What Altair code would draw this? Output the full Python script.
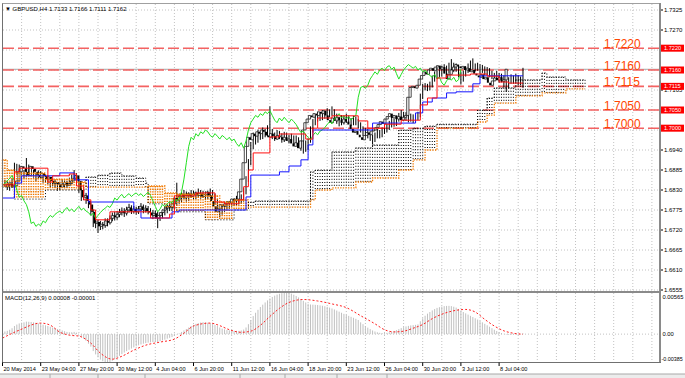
import altair as alt
import pandas as pd

# ---------------- data ----------------
opens = [
1.6840,1.6845,1.6850,1.6838,1.6842,1.6855,1.6880,1.6895,1.6890,1.6880,
1.6870,1.6895,1.6888,1.6880,1.6872,1.6865,1.6876,1.6868,1.6860,1.6866,
1.6855,1.6848,1.6852,1.6845,1.6838,1.6845,1.6850,1.6842,1.6848,1.6855,
1.6862,1.6870,1.6855,1.6830,1.6810,1.6815,1.6800,1.6790,1.6770,1.6738,
1.6742,1.6730,1.6736,1.6732,1.6745,1.6740,1.6752,1.6760,1.6755,1.6763,
1.6768,1.6772,1.6766,1.6775,1.6782,1.6772,1.6778,1.6770,1.6778,1.6785,
1.6775,1.6780,1.6772,1.6768,1.6760,1.6766,1.6752,1.6760,1.6768,1.6775,
1.6780,1.6786,1.6782,1.6792,1.6808,1.6802,1.6812,1.6818,1.6808,1.6815,
1.6820,1.6812,1.6818,1.6822,1.6815,1.6820,1.6812,1.6818,1.6824,1.6815,
1.6800,1.6785,1.6770,1.6778,1.6790,1.6785,1.6792,1.6798,1.6795,1.6805,
1.6800,1.6805,1.6825,1.6860,1.6905,1.6950,1.6975,1.6968,1.6985,1.6978,
1.6990,1.6985,1.6995,1.6990,1.6980,1.6975,1.6985,1.6978,1.6970,1.6980,
1.6975,1.6968,1.6975,1.6965,1.6970,1.6958,1.6950,1.6960,1.6945,1.6965,
1.6995,1.7015,1.7025,1.7035,1.7030,1.7040,1.7035,1.7045,1.7040,1.7048,
1.7035,1.7022,1.7015,1.7028,1.7020,1.7030,1.7022,1.7015,1.7025,1.7018,
1.7010,1.6998,1.6988,1.6992,1.6982,1.6975,1.6968,1.6980,1.6988,1.6982,
1.6992,1.6995,1.7002,1.7010,1.7018,1.7012,1.7025,1.7032,1.7040,1.7028,
1.7035,1.7025,1.7032,1.7022,1.7030,1.7035,1.7085,1.7112,1.7115,1.7110,
1.7118,1.7135,1.7145,1.7155,1.7148,1.7160,1.7165,1.7158,1.7168,1.7172,
1.7162,1.7168,1.7150,1.7135,1.7148,1.7160,1.7168,1.7175,1.7170,1.7165,
1.7170,1.7160,1.7165,1.7155,1.7160,1.7150,1.7145,1.7140,1.7148,1.7135,
1.7140,1.7125,1.7118,1.7130,1.7138,1.7132,1.7140,1.7128,1.7133]

highs = [
1.6852,1.6858,1.6856,1.6848,1.6862,1.6905,1.6902,1.6900,1.6896,1.6885,
1.6918,1.6900,1.6895,1.6886,1.6878,1.6884,1.6882,1.6872,1.6874,1.6870,
1.6860,1.6860,1.6858,1.6850,1.6852,1.6860,1.6856,1.6855,1.6864,1.6872,
1.6885,1.6876,1.6860,1.6836,1.6828,1.6822,1.6808,1.6796,1.6776,1.6752,
1.6748,1.6745,1.6742,1.6752,1.6752,1.6760,1.6768,1.6770,1.6772,1.6778,
1.6782,1.6780,1.6784,1.6792,1.6788,1.6786,1.6784,1.6786,1.6794,1.6790,
1.6788,1.6786,1.6780,1.6775,1.6774,1.6770,1.6768,1.6776,1.6784,1.6790,
1.6796,1.6794,1.6802,1.6850,1.6820,1.6824,1.6830,1.6826,1.6824,1.6830,
1.6828,1.6826,1.6834,1.6830,1.6828,1.6826,1.6828,1.6834,1.6830,1.6820,
1.6806,1.6790,1.6786,1.6798,1.6796,1.6800,1.6806,1.6808,1.6814,1.6815,
1.6818,1.6835,1.6868,1.6915,1.6962,1.6988,1.6985,1.6996,1.6992,1.7002,
1.6998,1.7008,1.7060,1.6998,1.6988,1.6995,1.6992,1.6986,1.6990,1.6988,
1.6982,1.6985,1.6980,1.6980,1.6975,1.6965,1.6968,1.6966,1.6972,1.7005,
1.7025,1.7036,1.7045,1.7044,1.7050,1.7048,1.7055,1.7052,1.7060,1.7052,
1.7040,1.7030,1.7036,1.7034,1.7040,1.7035,1.7028,1.7034,1.7032,1.7025,
1.7016,1.7005,1.7000,1.6998,1.6990,1.6982,1.6988,1.6998,1.6995,1.7002,
1.7005,1.7012,1.7020,1.7028,1.7026,1.7034,1.7042,1.7050,1.7045,1.7044,
1.7040,1.7040,1.7038,1.7038,1.7045,1.7095,1.7122,1.7124,1.7122,1.7128,
1.7145,1.7156,1.7166,1.7162,1.7172,1.7176,1.7172,1.7180,1.7190,1.7180,
1.7178,1.7172,1.7156,1.7158,1.7170,1.7178,1.7186,1.7192,1.7178,1.7180,
1.7176,1.7174,1.7170,1.7168,1.7165,1.7158,1.7152,1.7158,1.7152,1.7150,
1.7145,1.7132,1.7140,1.7148,1.7145,1.7150,1.7146,1.7142,1.7166]

lows = [
1.6832,1.6838,1.6830,1.6828,1.6836,1.6850,1.6872,1.6880,1.6872,1.6862,
1.6865,1.6878,1.6872,1.6864,1.6855,1.6860,1.6860,1.6850,1.6852,1.6846,
1.6838,1.6840,1.6836,1.6828,1.6830,1.6840,1.6835,1.6836,1.6842,1.6848,
1.6856,1.6846,1.6822,1.6800,1.6802,1.6792,1.6780,1.6760,1.6728,1.6725,
1.6712,1.6720,1.6722,1.6726,1.6730,1.6735,1.6744,1.6746,1.6748,1.6755,
1.6760,1.6756,1.6760,1.6768,1.6764,1.6765,1.6762,1.6764,1.6772,1.6766,
1.6768,1.6763,1.6758,1.6750,1.6752,1.6725,1.6745,1.6752,1.6760,1.6766,
1.6772,1.6772,1.6776,1.6786,1.6792,1.6796,1.6805,1.6798,1.6800,1.6808,
1.6804,1.6805,1.6810,1.6806,1.6808,1.6802,1.6805,1.6810,1.6805,1.6790,
1.6772,1.6755,1.6762,1.6770,1.6776,1.6778,1.6784,1.6786,1.6788,1.6790,
1.6792,1.6798,1.6818,1.6852,1.6898,1.6942,1.6955,1.6960,1.6968,1.6970,
1.6975,1.6978,1.6982,1.6970,1.6965,1.6968,1.6970,1.6960,1.6962,1.6966,
1.6958,1.6960,1.6955,1.6958,1.6948,1.6938,1.6930,1.6935,1.6940,1.6960,
1.6988,1.7008,1.7018,1.7020,1.7022,1.7026,1.7028,1.7030,1.7034,1.7026,
1.7012,1.7005,1.7008,1.7010,1.7014,1.7012,1.7006,1.7008,1.7008,1.7000,
1.6988,1.6978,1.6978,1.6972,1.6965,1.6955,1.6962,1.6972,1.6972,1.6975,
1.6984,1.6988,1.6995,1.7002,1.7004,1.7006,1.7018,1.7025,1.7020,1.7020,
1.7016,1.7018,1.7014,1.7015,1.7022,1.7030,1.7080,1.7104,1.7102,1.7104,
1.7112,1.7128,1.7138,1.7140,1.7142,1.7152,1.7148,1.7150,1.7160,1.7154,
1.7155,1.7140,1.7120,1.7128,1.7142,1.7152,1.7160,1.7162,1.7156,1.7158,
1.7150,1.7152,1.7146,1.7146,1.7140,1.7135,1.7130,1.7134,1.7125,1.7126,
1.7112,1.7100,1.7110,1.7122,1.7122,1.7125,1.7118,1.7118,1.7111]

closes = [
1.6845,1.6850,1.6838,1.6842,1.6855,1.6880,1.6895,1.6890,1.6880,1.6870,
1.6895,1.6888,1.6880,1.6872,1.6865,1.6876,1.6868,1.6860,1.6866,1.6855,
1.6848,1.6852,1.6845,1.6838,1.6845,1.6850,1.6842,1.6848,1.6855,1.6862,
1.6870,1.6855,1.6830,1.6810,1.6815,1.6800,1.6790,1.6770,1.6738,1.6742,
1.6730,1.6736,1.6732,1.6745,1.6740,1.6752,1.6760,1.6755,1.6763,1.6768,
1.6772,1.6766,1.6775,1.6782,1.6772,1.6778,1.6770,1.6778,1.6785,1.6775,
1.6780,1.6772,1.6768,1.6760,1.6766,1.6752,1.6760,1.6768,1.6775,1.6780,
1.6786,1.6782,1.6792,1.6808,1.6802,1.6812,1.6818,1.6808,1.6815,1.6820,
1.6812,1.6818,1.6822,1.6815,1.6820,1.6812,1.6818,1.6824,1.6815,1.6800,
1.6785,1.6770,1.6778,1.6790,1.6785,1.6792,1.6798,1.6795,1.6805,1.6800,
1.6805,1.6825,1.6860,1.6905,1.6950,1.6975,1.6968,1.6985,1.6978,1.6990,
1.6985,1.6995,1.6990,1.6980,1.6975,1.6985,1.6978,1.6970,1.6980,1.6975,
1.6968,1.6975,1.6965,1.6970,1.6958,1.6950,1.6960,1.6945,1.6965,1.6995,
1.7015,1.7025,1.7035,1.7030,1.7040,1.7035,1.7045,1.7040,1.7048,1.7035,
1.7022,1.7015,1.7028,1.7020,1.7030,1.7022,1.7015,1.7025,1.7018,1.7010,
1.6998,1.6988,1.6992,1.6982,1.6975,1.6968,1.6980,1.6988,1.6982,1.6992,
1.6995,1.7002,1.7010,1.7018,1.7012,1.7025,1.7032,1.7040,1.7028,1.7035,
1.7025,1.7032,1.7022,1.7030,1.7035,1.7085,1.7112,1.7115,1.7110,1.7118,
1.7135,1.7145,1.7155,1.7148,1.7160,1.7165,1.7158,1.7168,1.7172,1.7162,
1.7168,1.7150,1.7135,1.7148,1.7160,1.7168,1.7175,1.7170,1.7165,1.7170,
1.7160,1.7165,1.7155,1.7160,1.7150,1.7145,1.7140,1.7148,1.7135,1.7140,
1.7125,1.7118,1.7130,1.7138,1.7132,1.7140,1.7128,1.7133,1.7162]

# Ichimoku lines as constant runs (bar where the level starts, level)
tenkan_start = [0,5,7,19,21,28,31,34,37,39,45,62,70,72,81,89,93,99,101,103,
                105,112,116,127,130,132,138,149,153,160,167,175,178,182,186,196,203,208,212]
tenkan_val = [1.6844,1.6880,1.6890,1.6852,1.6869,1.6874,1.6841,1.6803,1.6775,1.6748,
              1.6770,1.6753,1.6764,1.6814,1.6822,1.6797,1.6792,1.6803,1.6839,1.6885,
              1.6932,1.6976,1.6984,1.6970,1.7000,1.7028,1.7034,1.7020,1.7000,1.7011,
              1.7022,1.7064,1.7083,1.7138,1.7146,1.7149,1.7143,1.7127,1.7124]
kijun_start = [0,5,8,24,30,36,55,58,71,74,102,104,116,120,125,128,130,155,173,176,180,186,190,197,200]
kijun_val = [1.6808,1.6849,1.6869,1.6877,1.6858,1.6797,1.6775,1.6753,1.6770,1.6775,
             1.6811,1.6871,1.6880,1.6896,1.6913,1.6954,1.6995,1.7014,1.7042,1.7072,
             1.7083,1.7097,1.7100,1.7122,1.7144]
spanA_start = [0,2,5,18,31,35,61,68,73,85,91,97,103,129,131,138,148,155,166,172,
               177,182,199,203,206,215,226,236]
spanA_val = [1.6913,1.6885,1.6877,1.6860,1.6852,1.6838,1.6841,1.6822,1.6819,1.6814,
             1.6797,1.6803,1.6783,1.6803,1.6830,1.6836,1.6852,1.6863,1.6885,1.6913,
             1.6940,1.7000,1.7017,1.7036,1.7069,1.7089,1.7097,1.7108]
spanB_start = [0,5,18,35,40,45,50,56,60,61,68,73,85,97,103,106,129,131,138,148,
               155,166,172,177,182,199,203,206,215,226,228,236]
spanB_val = [1.6838,1.6805,1.6830,1.6866,1.6871,1.6877,1.6869,1.6863,1.6849,1.6792,
             1.6781,1.6770,1.6748,1.6775,1.6797,1.6800,1.6880,1.6885,1.6935,1.6946,
             1.6954,1.6995,1.7000,1.7006,1.7011,1.7050,1.7083,1.7111,1.7133,1.7152,
             1.7141,1.7133]
cloud_bars = 245
chikou_shift = 26

# MACD main (histogram), in units of 0.00001
macd_main = [
20,35,45,60,80,110,130,145,155,160,
170,168,165,160,155,145,138,128,120,110,
100,90,80,70,60,50,40,30,25,25,
30,20,0,-30,-60,-90,-130,-170,-230,-275,
-315,-345,-368,-382,-385,-378,-362,-340,-318,-295,
-272,-250,-230,-212,-196,-180,-165,-152,-140,-130,
-122,-116,-112,-108,-105,-106,-95,-85,-75,-62,
-50,-40,-25,-5,10,30,50,70,90,110,
125,140,150,158,162,160,155,150,140,125,
110,90,75,65,55,50,48,45,45,45,
50,62,90,135,190,245,290,330,368,400,
430,458,485,505,522,537,548,556,562,565,
560,550,535,518,498,475,452,430,412,402,
400,398,395,390,385,378,370,360,348,335,
320,305,290,275,262,248,235,222,208,192,
160,135,110,88,68,50,36,25,18,14,
14,18,25,34,44,55,68,82,95,105,
112,118,122,126,132,175,215,250,278,300,
322,340,356,366,374,380,383,384,380,372,
360,342,320,300,282,265,248,232,215,198,
180,160,140,120,100,80,60,42,28,15,
4,-6,-10,-12,-10,-8,-6,-2,8]
signal_idx = [0,7,16,20,24,28,32,37,41,46,50,55,60,66,72,76,80,87,91,95,100,104,108,112,
              116,120,126,132,138,144,150,156,160,164,168,172,176,180,184,188,194,198,
              202,206,210,214,218]
signal_val = [-54,54,150,122,27,-14,-27,-122,-258,-340,-300,-217,-150,-108,-68,14,110,150,
              115,60,25,40,120,240,350,430,470,450,410,360,250,140,60,30,40,80,130,210,
              270,310,335,300,200,110,45,12,-1]

price_ticks = [1.7325,1.7270,1.7215,1.7160,1.7105,1.7050,1.6995,1.6940,1.6885,1.6830,
               1.6775,1.6720,1.6665,1.6610,1.6555]
# tick labels that stay visible beside the red level boxes
price_labels_shown = [1.7325,1.7270,1.7105,1.6940,1.6885,1.6830,1.6775,1.6720,1.6665,
                      1.6610,1.6555]
level_values = [1.7220,1.7160,1.7115,1.7050,1.7000]
level_labels = ["1.7220","1.7160","1.7115","1.7050","1.7000"]
bid_price = 1.7162
date_idx = [0,16,32,48,64,80,96,112,128,144,160,176,192,208]
date_labels = ["20 May 2014","23 May 04:00","27 May 20:00","30 May 12:00","4 Jun 04:00",
               "6 Jun 20:00","11 Jun 12:00","16 Jun 04:00","18 Jun 20:00","23 Jun 12:00",
               "26 Jun 04:00","30 Jun 20:00","3 Jul 12:00","8 Jul 04:00"]
macd_top, macd_bottom = 0.00565, -0.00385
title_text = "\u25bc GBPUSD,H4  1.7133 1.7166 1.7111 1.7162"
macd_title = "MACD(12,26,9) 0.00008 -0.00001"

# ---------------- build tables ----------------
def expand(starts, vals, n):
    out = []
    for k, s in enumerate(starts):
        e = starts[k + 1] if k + 1 < len(starts) else n
        out += [vals[k]] * (e - s)
    return out

ORANGE = "#F07800"
nb = len(closes)
candles = pd.DataFrame({"i": range(nb), "o": opens, "h": highs, "l": lows, "c": closes})
bull = candles[candles.c >= candles.o]
bear = candles[candles.c < candles.o]

A = expand(spanA_start, spanA_val, cloud_bars)
B = expand(spanB_start, spanB_val, cloud_bars)
cloud = pd.DataFrame({"i": range(cloud_bars), "a": A, "b": B})
cloud["top"] = cloud[["a", "b"]].max(axis=1)
cloud["bot"] = cloud[["a", "b"]].min(axis=1)
cloud_or = cloud[cloud.a >= cloud.b]
cloud_bk = cloud[cloud.a < cloud.b]

def steps(starts, vals):
    return pd.DataFrame({"i": starts + [nb - 1], "p": vals + [vals[-1]]})

tenkan = steps(tenkan_start, tenkan_val)
kijun = steps(kijun_start, kijun_val)
chikou = pd.DataFrame({"i": [k - chikou_shift for k in range(nb)], "p": closes})
chikou = chikou[chikou.i >= 0]

macd = pd.DataFrame({"i": range(nb), "m": [v * 1e-5 for v in macd_main], "z": 0.0})
signal = pd.DataFrame({"i": signal_idx, "s": [v * 1e-5 for v in signal_val]})

pt = pd.DataFrame({"p": price_ticks})
ptl = pd.DataFrame({"p": price_labels_shown,
                    "lab": [f"{v:.4f}" for v in price_labels_shown]})
lv = pd.DataFrame({"p": level_values, "lab": level_labels})
dates = pd.DataFrame({"i": date_idx, "lab": date_labels})
vgrid = pd.DataFrame({"i": list(range(8, 276, 8))})
one = pd.DataFrame({"k": [0]})

# ---------------- scales ----------------
XS = alt.Scale(domain=[0, 100], range=[2.5, 241.25], nice=False, zero=False)
YP = alt.Scale(domain=[1.6555, 1.7325], range=[290, 10], nice=False, zero=False)
YM = alt.Scale(domain=[macd_bottom, macd_top], range=[362.5, 292.5], nice=False, zero=False)

def xq(f="i"):
    return alt.X(f"{f}:Q", scale=XS, axis=None)

def yp(f):
    return alt.Y(f"{f}:Q", scale=YP, axis=None)

def ym(f):
    return alt.Y(f"{f}:Q", scale=YM, axis=None)

FONT = "Liberation Sans"
GRID = "#c2c2c2"
L = []

# grid
L.append(alt.Chart(vgrid).mark_rule(color=GRID, strokeDash=[1, 2], strokeWidth=1)
         .encode(x=xq(), y=alt.value(4), y2=alt.value(291)))
L.append(alt.Chart(vgrid).mark_rule(color=GRID, strokeDash=[1, 2], strokeWidth=1)
         .encode(x=xq(), y=alt.value(293), y2=alt.value(362)))
L.append(alt.Chart(pt).mark_rule(color=GRID, strokeDash=[1, 2], strokeWidth=1)
         .encode(y=yp("p"), x=alt.value(3), x2=alt.value(659)))
L.append(alt.Chart(pd.DataFrame({"m": [0.0]})).mark_rule(color=GRID, strokeDash=[1, 2])
         .encode(y=ym("m"), x=alt.value(3), x2=alt.value(659)))

# level lines and bid line
L.append(alt.Chart(pd.DataFrame({"p": [bid_price]})).mark_rule(color="#a8a8a8", strokeWidth=1)
         .encode(y=yp("p"), x=alt.value(3), x2=alt.value(659)))
L.append(alt.Chart(lv).mark_rule(color="#F46262", strokeDash=[11, 4], strokeWidth=1.6)
         .encode(y=yp("p"), x=alt.value(3), x2=alt.value(659)))

# MACD
L.append(alt.Chart(macd).mark_rule(color="#c0c0c0", strokeWidth=1)
         .encode(x=xq(), y=ym("m"), y2="z:Q"))
L.append(alt.Chart(signal).mark_line(color="#ff2020", strokeDash=[2, 2], strokeWidth=1,
                                     interpolate="monotone")
         .encode(x=xq(), y=ym("s")))

# candles
L.append(alt.Chart(candles).mark_rule(color="#000000", strokeWidth=1)
         .encode(x=xq(), y=yp("h"), y2="l:Q"))
L.append(alt.Chart(bear).mark_bar(size=2, color="#000000")
         .encode(x=xq(), y=yp("o"), y2="c:Q"))
L.append(alt.Chart(bull).mark_bar(size=2.2, fill="#ffffff", stroke="#000000", strokeWidth=0.7)
         .encode(x=xq(), y=yp("o"), y2="c:Q"))

# cloud (drawn over the candles, as the terminal does)
L.append(alt.Chart(cloud_or).mark_rule(strokeDash=[1.3, 1.3], strokeWidth=1.5, color=ORANGE)
         .encode(x=xq(), y=yp("top"), y2="bot:Q"))
L.append(alt.Chart(cloud_bk).mark_rule(strokeDash=[1, 2], strokeWidth=1, color="#000000")
         .encode(x=xq(), y=yp("top"), y2="bot:Q"))
L.append(alt.Chart(cloud).mark_line(interpolate="step-after", strokeDash=[1.3, 1.3],
                                    color=ORANGE, strokeWidth=1.3)
         .encode(x=xq(), y=yp("a")))
L.append(alt.Chart(cloud).mark_line(interpolate="step-after", strokeDash=[1, 2],
                                    color="#000000", strokeWidth=1)
         .encode(x=xq(), y=yp("b")))

# ichimoku lines
L.append(alt.Chart(chikou).mark_line(color="#22e022", strokeWidth=1).encode(x=xq(), y=yp("p")))
L.append(alt.Chart(kijun).mark_line(color="#1515ff", strokeWidth=1, interpolate="step-after")
         .encode(x=xq(), y=yp("p")))
L.append(alt.Chart(tenkan).mark_line(color="#ff1010", strokeWidth=1, interpolate="step-after")
         .encode(x=xq(), y=yp("p")))

# big level labels
L.append(alt.Chart(lv).mark_text(align="left", baseline="alphabetic", fontSize=12, font=FONT,
                                 color="#FF4500")
         .encode(x=alt.value(604), y=yp("p"), text="lab:N"))

# frame
def rule(x, x2, y, y2, color, w=1):
    return alt.Chart(one).mark_rule(color=color, strokeWidth=w).encode(
        x=alt.value(x), x2=alt.value(x2), y=alt.value(y), y2=alt.value(y2))

L.append(rule(2.5, 2.5, 3, 363, "#707070"))
L.append(rule(2.5, 660, 3.5, 3.5, "#a0a0a0"))
L.append(rule(660, 660, 3, 363, "#8a8a8a", 2))
L.append(rule(2.5, 661, 292, 292, "#8a8a8a", 2))
L.append(rule(2.5, 661, 362.5, 362.5, "#707070"))

# price axis
L.append(alt.Chart(pt).mark_rule(color="#000000", strokeWidth=1)
         .encode(y=yp("p"), x=alt.value(661), x2=alt.value(663)))
L.append(alt.Chart(ptl).mark_text(align="left", baseline="middle", fontSize=6, font=FONT,
                                  color="#000000")
         .encode(x=alt.value(664), y=yp("p"), text="lab:N"))
L.append(alt.Chart(lv).mark_rule(color="#FF0000", strokeWidth=7, strokeCap="butt")
         .encode(y=yp("p"), x=alt.value(661), x2=alt.value(684)))
L.append(alt.Chart(lv).mark_text(align="left", baseline="middle", fontSize=5.6, font=FONT,
                                 color="#ffffff")
         .encode(x=alt.value(664), y=yp("p"), text="lab:N"))

# macd axis labels
L.append(alt.Chart(pd.DataFrame({"m": [macd_top], "lab": ["0.00565"]}))
         .mark_text(align="left", baseline="top", fontSize=5.8, font=FONT, dy=1.5)
         .encode(x=alt.value(662.5), y=ym("m"), text="lab:N"))
L.append(alt.Chart(pd.DataFrame({"m": [0.0], "lab": ["0.00"]}))
         .mark_text(align="left", baseline="middle", fontSize=5.8, font=FONT)
         .encode(x=alt.value(662.5), y=ym("m"), text="lab:N"))
L.append(alt.Chart(pd.DataFrame({"m": [macd_bottom], "lab": ["-0.00385"]}))
         .mark_text(align="left", baseline="bottom", fontSize=5.4, font=FONT, dy=-1)
         .encode(x=alt.value(661.5), y=ym("m"), text="lab:N"))

# date axis
L.append(alt.Chart(dates).mark_rule(color="#000000", strokeWidth=1)
         .encode(x=xq(), y=alt.value(362.5), y2=alt.value(366)))
L.append(alt.Chart(dates).mark_text(align="left", baseline="middle", fontSize=5.6, font=FONT,
                                    dx=1)
         .encode(x=xq(), y=alt.value(369), text="lab:N"))

# titles
L.append(alt.Chart(pd.DataFrame({"t": [title_text]}))
         .mark_text(align="left", baseline="middle", fontSize=6, font=FONT)
         .encode(x=alt.value(5), y=alt.value(9), text="t:N"))
L.append(alt.Chart(pd.DataFrame({"t": [macd_title]}))
         .mark_text(align="left", baseline="middle", fontSize=6, font=FONT)
         .encode(x=alt.value(5), y=alt.value(298), text="t:N"))

# bottom tab strip
L.append(alt.Chart(one).mark_rect(color="#ececec")
         .encode(x=alt.value(0), x2=alt.value(685), y=alt.value(374), y2=alt.value(378)))
L.append(rule(0, 685, 374, 374, "#a8a8a8"))
L.append(alt.Chart(pd.DataFrame({"x": [50, 98, 145, 240, 285, 337, 387]}))
         .mark_rule(color="#a8a8a8")
         .encode(x=alt.X("x:Q", scale=alt.Scale(domain=[0, 685], range=[0, 685], nice=False,
                                                zero=False), axis=None),
                 y=alt.value(374), y2=alt.value(378)))

chart = (alt.layer(*L)
         .resolve_scale(y="independent", x="independent")
         .properties(width=685, height=378, padding=0,
                     autosize=alt.AutoSizeParams(type="none"))
         .configure_view(stroke=None))

chart.save("out.html", embed_options={"renderer": "svg", "actions": False})
